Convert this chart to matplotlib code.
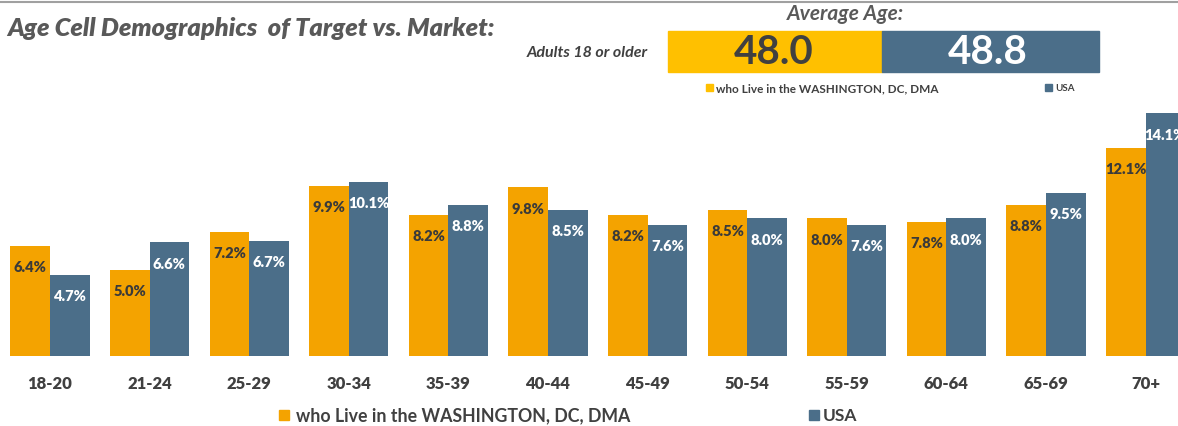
import matplotlib
matplotlib.use('Agg')
import matplotlib.pyplot as plt
from matplotlib.patches import Rectangle
from matplotlib.lines import Line2D

# data
age_groups = ['18-20', '21-24', '25-29', '30-34', '35-39', '40-44',
              '45-49', '50-54', '55-59', '60-64', '65-69', '70+']
dc_pct = [6.4, 5.0, 7.2, 9.9, 8.2, 9.8, 8.2, 8.5, 8.0, 7.8, 8.8, 12.1]
usa_pct = [4.7, 6.6, 6.7, 10.1, 8.8, 8.5, 7.6, 8.0, 7.6, 8.0, 9.5, 14.1]
series_names = ['who Live in the WASHINGTON, DC, DMA', 'USA']
avg_age = [48.0, 48.8]

orange = '#F4A300'
blue = '#4B6E89'
gold = '#FFC000'
txt = '#404040'

plt.rcParams['font.family'] = ['Lato', 'DejaVu Sans']

W, H = 1178, 427
fig = plt.figure(figsize=(W / 100, H / 100), dpi=100)

def fx(px):
    return px / W

def fy(py):
    return 1 - py / H

# bar axes
ax = fig.add_axes([0, fy(357), 1, (357 - 100) / H])
ax.set_xlim(-0.502, 11.325)
ax.set_ylim(0, 257 / 17.2)
w = 0.397
x = list(range(len(age_groups)))
ax.bar([i - w / 2 for i in x], dc_pct, width=w, color=orange, clip_on=False)
ax.bar([i + w / 2 for i in x], usa_pct, width=w, color=blue, clip_on=False)
for i in x:
    ax.text(i - w / 2, dc_pct[i] - 1.2, f'{dc_pct[i]:.1f}%', ha='center', va='center',
            fontsize=10.5, fontweight='heavy', color='#3a3a3a', clip_on=False)
    ax.text(i + w / 2, usa_pct[i] - 1.2, f'{usa_pct[i]:.1f}%', ha='center', va='center',
            fontsize=10.5, fontweight='heavy', color='white', clip_on=False)
ax.axis('off')

# category labels
for i, lab in enumerate(age_groups):
    fig.text(fx(50 + 99.6 * i), fy(384), lab, ha='center', va='center',
             fontsize=12, fontweight='heavy', color=txt)

# bottom legend
fig.patches.append(Rectangle((fx(279), fy(421)), fx(10), 10 / H, color=orange,
                             transform=fig.transFigure, figure=fig))
fig.text(fx(296), fy(416), series_names[0], ha='left', va='center',
         fontsize=12.8, fontweight='bold', color=txt)
fig.patches.append(Rectangle((fx(809), fy(421)), fx(10), 10 / H, color=blue,
                             transform=fig.transFigure, figure=fig))
fig.text(fx(823), fy(416), series_names[1], ha='left', va='center',
         fontsize=12.5, fontweight='bold', color=txt)

# header
fig.add_artist(Line2D([0, 1], [fy(3), fy(3)], transform=fig.transFigure,
                      color='#a0a0a0', lw=1.5))
fig.text(fx(7), fy(28), 'Age Cell Demographics  of Target vs. Market:', ha='left',
         va='center', fontsize=18.3, fontweight='heavy', style='italic', color='#595959')
fig.text(fx(648), fy(53), 'Adults 18 or older', ha='right', va='center',
         fontsize=11.5, fontweight='bold', style='italic', color=txt)
fig.text(fx(845), fy(14), 'Average Age:', ha='center', va='center',
         fontsize=15, fontweight='bold', style='italic', color='#595959')

fig.patches.append(Rectangle((fx(668), fy(73)), fx(214), 41 / H, color=gold,
                             transform=fig.transFigure, figure=fig))
fig.patches.append(Rectangle((fx(882), fy(73)), fx(217), 41 / H, color=blue,
                             transform=fig.transFigure, figure=fig))
fig.text(fx(774), fy(53), f'{avg_age[0]:.1f}', ha='center', va='center',
         fontsize=29, fontweight='bold', color=txt)
fig.text(fx(988), fy(53), f'{avg_age[1]:.1f}', ha='center', va='center',
         fontsize=29, fontweight='bold', color='white')

# small legend under the boxes
fig.patches.append(Rectangle((fx(706), fy(92)), fx(7), 7 / H, color=gold,
                             transform=fig.transFigure, figure=fig))
fig.text(fx(716), fy(88.5), series_names[0], ha='left', va='center',
         fontsize=8.5, fontweight='bold', color=txt)
fig.patches.append(Rectangle((fx(1045), fy(92)), fx(7), 7 / H, color=blue,
                             transform=fig.transFigure, figure=fig))
fig.text(fx(1055), fy(88.5), series_names[1], ha='left', va='center',
         fontsize=7, fontweight='bold', color=txt)

fig.savefig('out.png', dpi=100)
